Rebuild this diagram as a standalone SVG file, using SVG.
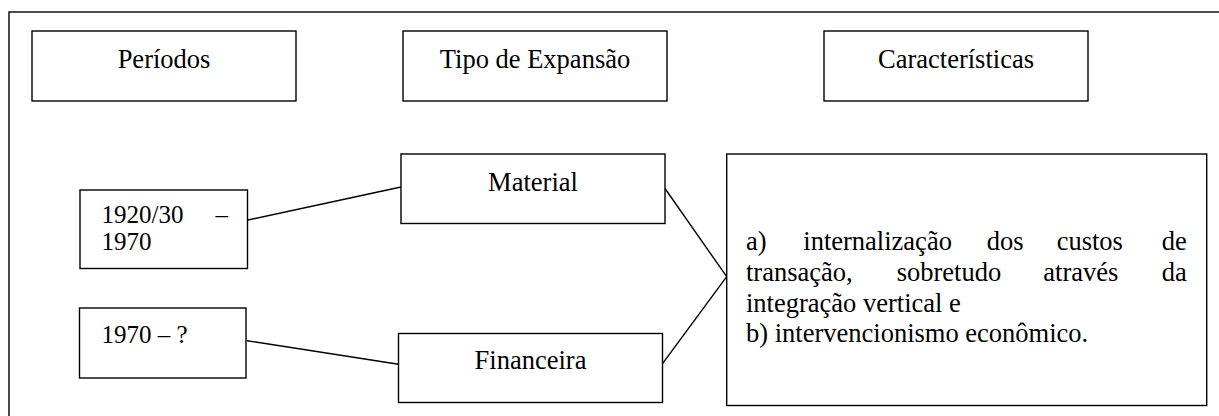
<svg xmlns="http://www.w3.org/2000/svg" width="1219" height="416" viewBox="0 0 1219 416">
<style>
.box{fill:#fff;stroke:#000;stroke-width:1.4}
.ln{stroke:#000;stroke-width:1.4;fill:none}
text{font-family:"Liberation Serif","Times New Roman",serif;fill:#000}
.h{font-size:26.5px;text-anchor:middle}
.p{font-size:25px}
.c{font-size:26.5px}
</style>
<rect x="0" y="0" width="1219" height="416" fill="#fff"/>
<rect id="frame" x="9" y="12" width="1220" height="420" fill="none" stroke="#000" stroke-width="1.4"/>
<g id="connectors">
<line class="ln" x1="248" y1="220" x2="401" y2="187"/>
<line class="ln" x1="247" y1="340.7" x2="398.5" y2="364.3"/>
<line class="ln" x1="665" y1="188.5" x2="726.7" y2="276.7"/>
<line class="ln" x1="662.7" y1="363.3" x2="726.7" y2="276.7"/>
</g>
<g id="periodos"><rect class="box" x="32" y="31" width="264" height="70"/><text class="h" x="164" y="68">Períodos</text></g>
<g id="tipo"><rect class="box" x="403" y="31" width="264" height="70"/><text class="h" x="535" y="68">Tipo de Expansão</text></g>
<g id="caracteristicas"><rect class="box" x="824" y="31" width="264" height="70"/><text class="h" x="956" y="68">Características</text></g>
<g id="p1"><rect class="box" x="80" y="190" width="167.5" height="78.5"/><text class="p" x="101.5" y="223.3">1920/30</text><text class="p" x="228" y="223.3" text-anchor="end">–</text><text class="p" x="101.5" y="250">1970</text></g>
<g id="p2"><rect class="box" x="79.5" y="308" width="166.5" height="70"/><text class="p" x="101.5" y="343.3">1970 – ?</text></g>
<g id="material"><rect class="box" x="401" y="154" width="264" height="69.5"/><text class="h" x="533" y="190.7">Material</text></g>
<g id="financeira"><rect class="box" x="398.5" y="333.5" width="264" height="69"/><text class="h" x="530.5" y="369.3">Financeira</text></g>
<g id="desc"><rect class="box" x="726.7" y="154" width="480" height="251.5"/>
<text class="c" y="250"><tspan x="746">a)</tspan><tspan x="803.3">internalização</tspan><tspan x="986.7">dos</tspan><tspan x="1056.7">custos</tspan><tspan x="1161.7">de</tspan></text>
<text class="c" y="280.7"><tspan x="746">transação,</tspan><tspan x="896.7">sobretudo</tspan><tspan x="1043.3">através</tspan><tspan x="1161.7">da</tspan></text>
<text class="c" x="746" y="311.7">integração vertical e</text>
<text class="c" x="746" y="341.7">b) intervencionismo econômico.</text>
</g>
</svg>
